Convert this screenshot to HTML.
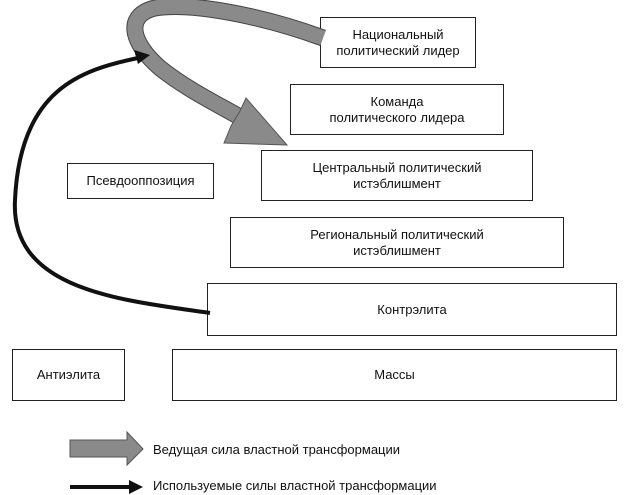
<!DOCTYPE html>
<html><head><meta charset="utf-8"><style>
body{margin:0;background:#fff;width:629px;height:495px;overflow:hidden;position:relative;font-family:"Liberation Sans",sans-serif;color:#111}
.b{position:absolute;border:1px solid #222;box-sizing:border-box;display:flex;align-items:center;justify-content:center;text-align:center;font-size:13px;line-height:16px;background:#fff}
.t{position:absolute;font-size:13px}
svg{position:absolute;left:0;top:0}
</style></head><body>
<div class="b" style="left:320px;top:17px;width:156px;height:51px">Национальный<br>политический лидер</div>
<div class="b" style="left:290px;top:84px;width:214px;height:51px">Команда<br>политического лидера</div>
<div class="b" style="left:261px;top:150px;width:272px;height:51px">Центральный политический<br>истэблишмент</div>
<div class="b" style="left:67px;top:163px;width:147px;height:36px">Псевдооппозиция</div>
<div class="b" style="left:230px;top:217px;width:334px;height:51px">Региональный политический<br>истэблишмент</div>
<div class="b" style="left:207px;top:283px;width:410px;height:53px">Контрэлита</div>
<div class="b" style="left:12px;top:349px;width:113px;height:52px">Антиэлита</div>
<div class="b" style="left:172px;top:349px;width:445px;height:52px">Массы</div>
<svg width="629" height="495">
<path d="M323,38 C260,15 190,2 155,8 C125,15 130,42 160,68 C185,88 215,103 238,116" fill="none" stroke="#444" stroke-width="17"/>
<path d="M323,38 C260,15 190,2 155,8 C125,15 130,42 160,68 C185,88 215,103 238,116" fill="none" stroke="#8a8a8a" stroke-width="15"/>
<polygon points="287,145 224,143 231,126 240,111 246,98" fill="#8a8a8a" stroke="#555" stroke-width="1"/>
<path d="M210,313 C120,300 10,290 15,200 C20,90 80,70 138,58" fill="none" stroke="#111" stroke-width="4"/>
<polygon points="150,55 134,50 138,64" fill="#111"/>
<polygon points="70,440 127,440 127,432 143,449 127,465 127,457 70,457" fill="#8a8a8a" stroke="#555"/>
<path d="M70,487 H132" stroke="#111" stroke-width="4"/>
<polygon points="143,487 129,480 129,494" fill="#111"/>
</svg>
<div class="t" style="left:153px;top:442px">Ведущая сила властной трансформации</div>
<div class="t" style="left:153px;top:478px">Используемые силы властной трансформации</div>
</body></html>
